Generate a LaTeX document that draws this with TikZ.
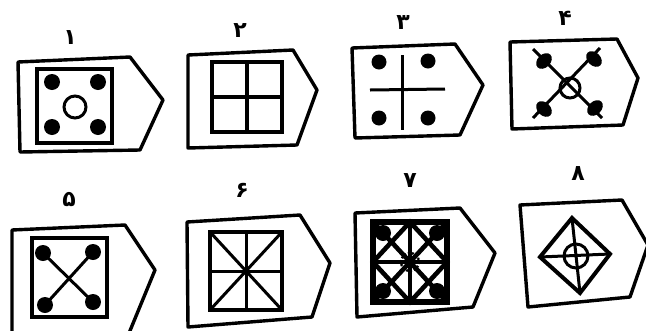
\documentclass[tikz,border=0pt]{standalone}
\usepackage{fontspec}
\newfontfamily\persian[Script=Arabic]{DejaVu Sans}
\tikzset{
  tag/.style={line width=3.4pt, line join=round},
  frame/.style={line width=4pt, line join=miter},
  rib/.style={line width=3pt},
  blob/.style={fill=black},
  num/.style={font=\persian\bfseries\fontsize{22}{22}\selectfont, inner sep=0pt}
}
\begin{document}
\begin{tikzpicture}[x=1pt, y=-1pt]
    \useasboundingbox (0,0) rectangle (646,330);

    % Tag 1: square, four dots, ring
    \node[num] (n1) at (70,38) {۱};
    \draw[tag] (18,62) -- (130,57) -- (163,100) -- (140,150) -- (20,152) -- cycle;
    \draw[frame] (37,69) rectangle (112,143);
    \foreach \p in {(52,82),(98,82),(52,127),(98,127)}
        \fill[blob] \p circle (8);
    \draw[rib] (75,107) circle (11);

    % Tag 2: window
    \node[num] (n2) at (240,31) {۲};
    \draw[tag] (188,55) -- (293,50) -- (317,90) -- (297,145) -- (188,148) -- cycle;
    \draw[frame] (212,62) rectangle (282,132);
    \draw[frame] (247,62) -- (247,132);
    \draw[frame] (212,97) -- (282,97);

    % Tag 3: cross with dots
    \node[num] (n3) at (403,23) {۳};
    \draw[tag] (352,48) -- (455,44) -- (483,85) -- (460,135) -- (355,138) -- cycle;
    \draw[rib] (402,55) -- (402,130);
    \draw[rib] (370,90) -- (445,89);
    \foreach \p in {(379,62),(428,61),(379,118),(428,118)}
        \fill[blob] \p circle (7.5);

    % Tag 4: X with teardrops
    \node[num] (n4) at (565,18) {۴};
    \draw[tag] (510,42) -- (617,39) -- (638,78) -- (623,125) -- (512,129) -- cycle;
    \draw[rib] (533,49) -- (602,118);
    \draw[rib] (600,48) -- (533,118);
    \draw[rib] (570,88) circle (10);
    \fill[blob, rotate around={45:(544,61)}] (544,61) ellipse (9 and 6.5);
    \fill[blob, rotate around={-45:(594,59)}] (594,59) ellipse (9 and 6.5);
    \fill[blob, rotate around={-45:(544,109)}] (544,109) ellipse (9 and 6.5);
    \fill[blob, rotate around={45:(595,108)}] (595,108) ellipse (9 and 6.5);

    % Tag 5: square with dotted X
    \node[num] (n5) at (69,200) {۵};
    \draw[tag] (12,230) -- (125,225) -- (155,270) -- (127,338) -- (12,340) -- cycle;
    \draw[frame] (32,238) rectangle (107,317);
    \draw[rib] (43,253) -- (93,302);
    \draw[rib] (93,252) -- (45,305);
    \foreach \p in {(43,253),(93,252),(45,305),(93,302)}
        \fill[blob] \p circle (8);

    % Tag 6: square with eight spokes
    \node[num] (n6) at (242,190) {۶};
    \draw[tag] (187,222) -- (300,215) -- (330,263) -- (312,317) -- (188,327) -- cycle;
    \draw[frame] (210,232) rectangle (282,310);
    \draw[rib] (210,232) -- (282,310);
    \draw[rib] (282,232) -- (210,310);
    \draw[rib] (246,232) -- (246,310);
    \draw[rib] (210,271) -- (282,271);

    % Tag 7: dense lattice
    \node[num] (n7) at (410,181) {۷};
    \draw[tag] (355,213) -- (460,208) -- (495,253) -- (473,307) -- (357,317) -- cycle;
    \draw[line width=6pt] (373,222) rectangle (447,302);
    \begin{scope}[line width=4.6pt]
        \draw (373,222) -- (447,302);
        \draw (447,222) -- (373,302);
        \draw (410,222) -- (410,302);
        \draw (373,262) -- (447,262);
        \draw (410,222) -- (447,262) -- (410,302) -- (373,262) -- cycle;
    \end{scope}
    \foreach \p in {(383,233),(437,233),(383,291),(437,291)}
        \fill[blob] \p circle (8);
    \draw[line width=2.4pt, dash pattern=on 2pt off 2pt] (410,262) circle (9);

    % Tag 8: diamond with target
    \node[num] (n8) at (578,174) {۸};
    \draw[tag] (520,205) -- (622,200) -- (648,245) -- (630,297) -- (528,307) -- cycle;
    \draw[frame] (572,218) -- (610,254) -- (580,293) -- (540,257) -- cycle;
    \draw[rib] (572,218) -- (580,293);
    \draw[rib] (540,257) -- (610,254);
    \draw[rib] (576,256) circle (12);
\end{tikzpicture}
\end{document}
